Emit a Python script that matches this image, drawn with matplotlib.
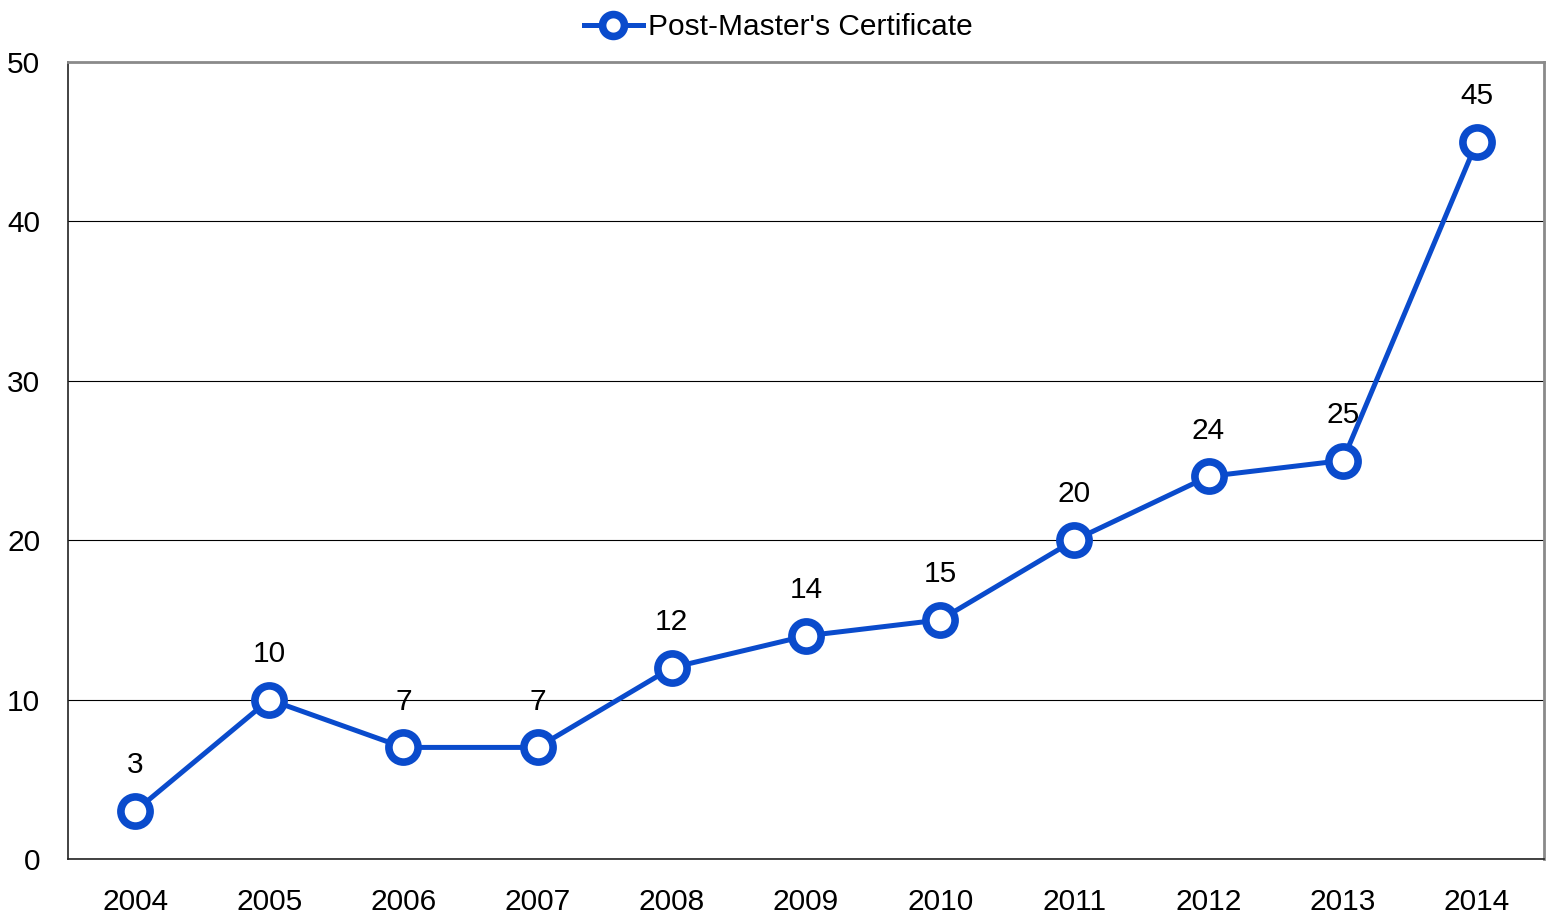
import matplotlib
matplotlib.use("Agg")
import matplotlib.pyplot as plt
from matplotlib import font_manager

years = ["2004", "2005", "2006", "2007", "2008", "2009", "2010", "2011", "2012", "2013", "2014"]
values = [3, 10, 7, 7, 12, 14, 15, 20, 24, 25, 45]
series_name = "Post-Master's Certificate"

names = {f.name for f in font_manager.fontManager.ttflist}
fam = "Liberation Sans Narrow" if "Liberation Sans Narrow" in names else "Liberation Sans"
plt.rcParams["font.family"] = [fam, "DejaVu Sans"]
fs = 22 if fam == "Liberation Sans Narrow" else 21.5

color = "#0a4bcc"
fig = plt.figure(figsize=(15.51, 9.18), dpi=100)
ax = fig.add_axes([68/1551, 1-859/918, (1544-68)/1551, (859-62)/918])

x = list(range(len(years)))
line, = ax.plot(x, values, color=color, lw=3.6, marker="o", ms=21, mfc="white",
                mec=color, mew=5.5, zorder=5, clip_on=False, label=series_name)
for xi, v in zip(x, values):
    ax.annotate(str(v), (xi, v), xytext=(0, 33), textcoords="offset points",
                ha="center", va="center", fontsize=fs, color="black")

ax.set_xlim(-0.5, len(years) - 0.5)
ax.set_ylim(0, 50)
ax.set_yticks([0, 10, 20, 30, 40, 50])
ax.set_xticks(x)
ax.set_xticklabels(years)
ax.tick_params(axis="both", length=0, labelsize=fs, colors="black")
ax.tick_params(axis="x", pad=21)
ax.tick_params(axis="y", pad=20)
ax.grid(axis="y", color="black", lw=0.8)
ax.set_axisbelow(True)
for s in ["left", "bottom"]:
    ax.spines[s].set_color("#222222")
    ax.spines[s].set_linewidth(1.2)
for s in ["top", "right"]:
    ax.spines[s].set_color("#8a8a8a")
    ax.spines[s].set_linewidth(2)

fig.legend(handles=[line], loc="center", bbox_to_anchor=(778/1551, 1-27/918),
           frameon=False, fontsize=fs, handlelength=2.0, handletextpad=0.15,
           markerscale=0.75)

fig.savefig("out.png", dpi=100)
